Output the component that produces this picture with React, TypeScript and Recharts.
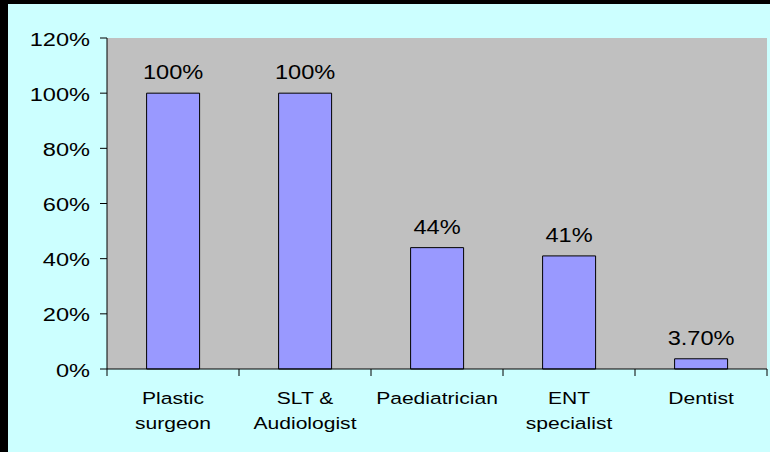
import React from 'react';
import { BarChart, Bar, XAxis, YAxis, CartesianGrid, LabelList } from 'recharts';

const categories = ['Plastic\nsurgeon', 'SLT &\nAudiologist', 'Paediatrician', 'ENT\nspecialist', 'Dentist'];
const values = [1.0, 1.0, 0.44, 0.41, 0.037];
const valueLabels = ['100%', '100%', '44%', '41%', '3.70%'];
const yTicks = [0, 0.2, 0.4, 0.6, 0.8, 1.0, 1.2];

const data = categories.map((name, i) => ({ name, value: values[i], label: valueLabels[i] }));

const FONT = '"Liberation Sans", Arial, sans-serif';

// excel-ish stretched text: glyphs are wider than plain Arial
const YTick = (props: any) => {
  const { x, y, payload } = props;
  return (
    <g transform={`translate(${x},${y}) scale(1.31,1)`}>
      <text x={0} y={0} dy={7.5} textAnchor="end" fontSize={18} fontFamily={FONT} fill="#000">
        {`${Math.round(payload.value * 100)}%`}
      </text>
    </g>
  );
};

const XTick = (props: any) => {
  const { x, y, payload, index, width, visibleTicksCount } = props;
  const half = payload.offset ?? width / visibleTicksCount / 2;
  const lines = String(payload.value).split('\n');
  return (
    <g>
      <line x1={x - half} x2={x - half} y1={y} y2={y + 7} stroke="#000" strokeWidth={1} />
      {index === categories.length - 1 && (
        <line x1={x + half} x2={x + half} y1={y} y2={y + 7} stroke="#000" strokeWidth={1} />
      )}
      <g transform={`translate(${x},${y + 35}) scale(1.24,1)`}>
        <text x={0} y={0} textAnchor="middle" fontSize={17} fontFamily={FONT} fill="#000">
          {lines.map((l, i) => (
            <tspan key={i} x={0} dy={i === 0 ? 0 : 25}>{l}</tspan>
          ))}
        </text>
      </g>
    </g>
  );
};

const ValueLabel = (props: any) => {
  const { x, y, width, value } = props;
  return (
    <g transform={`translate(${Number(x) + Number(width) / 2},${Number(y) - 14}) scale(1.18,1)`}>
      <text x={0} y={0} textAnchor="middle" fontSize={20} fontFamily={FONT} fill="#000">
        {value}
      </text>
    </g>
  );
};

export default function App() {
  return (
    <div style={{ position: 'absolute', left: 0, top: 0, width: 770, height: 452, background: '#000' }}>
      <div style={{ position: 'absolute', left: 8, top: 4, right: 0, bottom: 0, background: '#CCFFFF' }} />
      <div style={{ position: 'absolute', left: 0, top: 0 }}>
        <BarChart
          width={770}
          height={452}
          data={data}
          margin={{ top: 38, right: 3, bottom: 0, left: 0 }}
          barCategoryGap="30%"
        >
          <CartesianGrid fill="#C0C0C0" horizontal={false} vertical={false} stroke="none" />
          <XAxis
            dataKey="name"
            height={83}
            tick={<XTick />}
            tickLine={false}
            tickSize={0}
            tickMargin={0}
            interval={0}
            axisLine={{ stroke: '#000', strokeWidth: 1 }}
          />
          <XAxis
            xAxisId="top"
            dataKey="name"
            orientation="top"
            height={0}
            tick={false}
            tickLine={false}
            axisLine={{ stroke: '#808080', strokeWidth: 1.5 }}
          />
          <YAxis
            domain={[0, 1.2]}
            ticks={yTicks}
            width={107}
            tick={<YTick />}
            tickSize={7}
            tickMargin={10}
            tickLine={{ stroke: '#000', strokeWidth: 1 }}
            axisLine={{ stroke: '#000', strokeWidth: 1 }}
            interval={0}
          />
          <YAxis
            yAxisId="right"
            orientation="right"
            domain={[0, 1.2]}
            width={0}
            tick={false}
            tickLine={false}
            axisLine={{ stroke: '#808080', strokeWidth: 1.5 }}
          />
          <Bar dataKey="value" fill="#9999FF" stroke="#000" strokeWidth={1} isAnimationActive={false}>
            <LabelList dataKey="label" content={<ValueLabel />} />
          </Bar>
        </BarChart>
      </div>
    </div>
  );
}
